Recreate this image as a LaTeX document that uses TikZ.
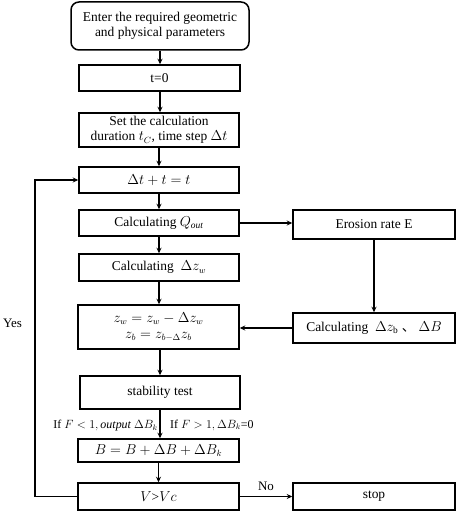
\documentclass[tikz,border=0pt]{standalone}
\usepackage{fontspec}
\setmainfont{Liberation Serif}
\newfontfamily\cjk{Noto Sans CJK SC}
\usetikzlibrary{arrows.meta}
\begin{document}
\begin{tikzpicture}[x=1bp,y=-1bp,
  box/.style={draw,line width=1.5bp,rectangle,align=center,inner sep=1pt,font=\fontsize{13.5}{15.5}\selectfont},
  arr/.style={line width=1.5bp,-{Stealth[length=5.5bp,width=5bp]}},
  lbl/.style={font=\fontsize{13}{15}\selectfont,inner sep=0pt}]
\useasboundingbox (0,0) rectangle (457,512);
\node[box,rounded corners=8bp,minimum width=178bp,minimum height=48bp] (n1) at (160,26) {Enter the required geometric\\and physical parameters};
\node[box,minimum width=161bp,minimum height=26bp] (n2) at (159.5,78) {t=0};
\node[box,minimum width=160bp,minimum height=34bp] (n3) at (159,130) {Set the calculation\\duration $t_C$, time step $\Delta t$};
\node[box,minimum width=160bp,minimum height=26bp] (n4) at (159,180) {$\Delta t + t = t$};
\node[box,minimum width=160bp,minimum height=26bp] (n5) at (159,223) {Calculating $Q_{\mathit{out}}$};
\node[box,minimum width=160bp,minimum height=27bp] (n6) at (159,267.5) {Calculating \ $\Delta z_w$};
\node[box,minimum width=161bp,minimum height=44bp] (n7) at (158.5,327) {$z_w = z_w - \Delta z_w$\\[0.5pt]$z_b = z_{b-\Delta}z_b$};
\node[box,minimum width=162bp,minimum height=29bp] (e) at (374,224.5) {Erosion rate E};
\node[box,minimum width=162bp,minimum height=30bp] (c) at (374,328) {Calculating \ $\Delta z_{\mathrm{b}}$ {\cjk 、} $\Delta B$};
\node[box,minimum width=160bp,minimum height=33bp] (n8) at (160,392.5) {stability test};
\node[box,minimum width=161bp,minimum height=23bp] (n9) at (158.5,450.5) {$B = B + \Delta B + \Delta B_k$};
\node[box,minimum width=161bp,minimum height=27bp] (n10) at (158.5,496.5) {$V$>$Vc$};
\node[box,minimum width=162bp,minimum height=27bp] (s) at (374,496.5) {stop};
\coordinate (lb) at (35,496.5);
\coordinate (lt) at (35,180);
\draw[arr] (n1.south -| 160,0) -- (n2.north -| 160,0);
\draw[arr] (n2.south -| 160,0) -- (n3.north -| 160,0);
\draw[arr] (n3.south -| 159,0) -- (n4.north -| 159,0);
\draw[arr] (n4.south -| 159,0) -- (n5.north -| 159,0);
\draw[arr] (n5.south -| 159,0) -- (n6.north -| 159,0);
\draw[arr] (n6.south -| 159,0) -- (n7.north -| 159,0);
\draw[arr] (n7.south -| 160,0) -- (n8.north -| 160,0);
\draw[arr] (n8.south -| 160,0) -- (n9.north -| 160,0);
\draw[arr] (n9.south -| 158.5,0) -- (n10.north -| 158.5,0);
\draw[arr] (n5.east) -- (e.west |- n5.east);
\draw[arr] (e.south) -- (c.north);
\draw[arr] (c.west) -- (n7.east |- c.west);
\draw[arr] (n10.east) -- (s.west) node[lbl,midway,above=5bp] (no) {No};
\draw[arr] (n10.west) -- (lb) -- (lt) -- (n4.west);
\node[lbl] (yes) at (12.5,323) {Yes};
\node[lbl,font=\fontsize{12}{14}\selectfont,anchor=east] (l1) at (158,426) {If $F<1, \mathit{output}\ \Delta B_k$};
\node[lbl,font=\fontsize{12}{14}\selectfont,anchor=west] (l2) at (170,425) {If $F>1, \Delta B_k$=0};
\end{tikzpicture}
\end{document}
